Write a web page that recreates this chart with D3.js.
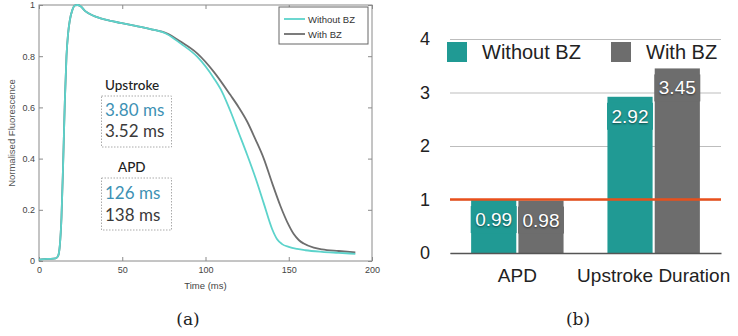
<!DOCTYPE html>
<html>
<head>
<meta charset="utf-8">
<script src="https://cdn.jsdelivr.net/npm/d3@7"></script>
<style>
  body { margin: 0; background: #fff; }
  svg { display: block; }
</style>
</head>
<body>
<div id="chart"></div>
<script>
// panel (a): fluorescence traces
var timeNoBz = [0, 5, 10, 11.5, 12.5, 13.5, 14.5, 15.5, 16.5, 17.5, 18.5, 20, 21.5, 23, 25, 28, 32, 37, 43, 49, 58, 67, 77, 85, 95, 105, 110, 115, 120, 125, 130, 135, 140, 143, 146, 150, 155, 160, 170, 180, 190];
var fluoNoBz = [0.005, 0.008, 0.01, 0.02, 0.06, 0.17, 0.38, 0.62, 0.8, 0.89, 0.94, 0.98, 0.998, 1.0, 0.995, 0.975, 0.96, 0.948, 0.938, 0.93, 0.918, 0.906, 0.886, 0.85, 0.798, 0.714, 0.66, 0.585, 0.5, 0.415, 0.325, 0.225, 0.125, 0.085, 0.066, 0.055, 0.047, 0.042, 0.036, 0.032, 0.028];
var timeBz = [0, 5, 10, 11.5, 12.5, 13.5, 14.5, 15.5, 16.5, 17.5, 18.5, 20, 21.5, 23, 25, 28, 32, 37, 43, 49, 58, 67, 77, 85, 95, 105, 115, 120, 125, 130, 135, 140, 145, 150, 153, 156, 159, 165, 170, 180, 190];
var fluoBz = [0.005, 0.008, 0.01, 0.02, 0.06, 0.17, 0.38, 0.62, 0.8, 0.89, 0.94, 0.98, 0.998, 1.0, 0.995, 0.975, 0.96, 0.948, 0.938, 0.93, 0.918, 0.906, 0.888, 0.857, 0.811, 0.739, 0.648, 0.6, 0.545, 0.475, 0.4, 0.305, 0.215, 0.14, 0.105, 0.082, 0.068, 0.052, 0.045, 0.039, 0.034];
var timeTicks = [0, 50, 100, 150, 200];
var fluoTicks = [0, 0.2, 0.4, 0.6, 0.8, 1];
var traceNames = ["Without BZ", "With BZ"];

// panel (b): normalised ratios
var barCategories = ["APD", "Upstroke Duration"];
var barSeries = ["Without BZ", "With BZ"];
var barNoBz = [0.99, 2.92];
var barBz = [0.98, 3.45];
var barTicks = [0, 1, 2, 3, 4];

var cyan = "#5cd3cb", grayLine = "#6e6e6e";
var teal = "#209a94", grayBar = "#6d6d6d";

var svg = d3.select('#chart').append('svg')
  .attr('width', 738)
  .attr('height', 336);

// ---------- (a) ----------
var xA = d3.scaleLinear().domain([0, 200]).range([39, 372]);
var yA = d3.scaleLinear().domain([0, 1]).range([261, 5]);
var matFont = "'Liberation Sans', Arial, sans-serif";

var gA = svg.append('g');

gA.append('rect')
  .attr('x', xA(0)).attr('y', yA(1))
  .attr('width', xA(200) - xA(0)).attr('height', yA(0) - yA(1))
  .attr('fill', 'none').attr('stroke', '#8a8a8a');

function styleMat(g) {
  g.select('.domain').remove();
  g.selectAll('line').attr('stroke', '#8a8a8a');
  g.selectAll('text').attr('fill', '#444').style('font-family', matFont).style('font-size', '9px');
}

gA.append('g').attr('transform', 'translate(0,' + yA(0) + ')')
  .call(d3.axisBottom(xA).tickValues(timeTicks).tickSize(-4).tickPadding(6).tickFormat(d3.format('d')))
  .call(styleMat);
gA.append('g').attr('transform', 'translate(0,' + yA(1) + ')')
  .call(d3.axisTop(xA).tickValues(timeTicks).tickSize(-4).tickFormat(''))
  .call(styleMat);
gA.append('g').attr('transform', 'translate(' + xA(0) + ',0)')
  .call(d3.axisLeft(yA).tickValues(fluoTicks).tickSize(-4).tickPadding(4).tickFormat(d => d === 0 || d === 1 ? d : d3.format('.1f')(d)))
  .call(styleMat);
gA.append('g').attr('transform', 'translate(' + xA(200) + ',0)')
  .call(d3.axisRight(yA).tickValues(fluoTicks).tickSize(-4).tickFormat(''))
  .call(styleMat);

gA.append('text')
  .attr('x', (xA(0) + xA(200)) / 2).attr('y', 289)
  .attr('text-anchor', 'middle')
  .style('font-family', matFont).style('font-size', '9.5px').attr('fill', '#444')
  .text('Time (ms)');

gA.append('text')
  .attr('transform', 'translate(15,' + yA(0.5) + ') rotate(-90)')
  .attr('text-anchor', 'middle')
  .style('font-family', matFont).style('font-size', '9.5px').attr('fill', '#555')
  .text('Normalised Fluorescence');

var line = d3.line()
  .x(d => xA(d[0]))
  .y(d => yA(d[1]))
  .curve(d3.curveMonotoneX);

var traceBz = timeBz.map((t, i) => [t, fluoBz[i]]);
var traceNoBz = timeNoBz.map((t, i) => [t, fluoNoBz[i]]);

gA.append('path').datum(traceBz)
  .attr('d', line).attr('fill', 'none').attr('stroke', grayLine).attr('stroke-width', 1.8);
gA.append('path').datum(traceNoBz)
  .attr('d', line).attr('fill', 'none').attr('stroke', cyan).attr('stroke-width', 1.8);

// legend (a)
gA.append('rect')
  .attr('x', 279).attr('y', 7).attr('width', 89).attr('height', 37)
  .attr('fill', '#fff').attr('stroke', '#666');
[cyan, grayLine].forEach(function(c, i) {
  var ly = 19 + i * 15;
  gA.append('line').attr('x1', 284).attr('x2', 305).attr('y1', ly).attr('y2', ly)
    .attr('stroke', c).attr('stroke-width', 1.8);
  gA.append('text').attr('x', 308).attr('y', ly + 3.5)
    .style('font-family', matFont).style('font-size', '9.5px').attr('fill', '#333')
    .text(traceNames[i]);
});

// annotations
var annFont = "Lato, 'Open Sans', sans-serif";
var notes = [
  { title: 'Upstroke', tx: 105, ty: 90, box: [101.5, 96, 70, 51], vals: ['3.80 ms', '3.52 ms'], vy: [116, 137] },
  { title: 'APD', tx: 118, ty: 172, box: [101.5, 178, 70, 52], vals: ['126 ms', '138 ms'], vy: [199, 221] }
];
notes.forEach(function(n) {
  gA.append('text').attr('x', n.tx).attr('y', n.ty)
    .style('font-family', annFont).style('font-size', '13.5px').style('font-weight', 500).attr('fill', '#222')
    .text(n.title);
  gA.append('rect').attr('x', n.box[0]).attr('y', n.box[1]).attr('width', n.box[2]).attr('height', n.box[3])
    .attr('fill', 'none').attr('stroke', '#aaa').attr('stroke-dasharray', '1.5,1.5');
  n.vals.forEach(function(v, i) {
    gA.append('text').attr('x', n.box[0] + 3.5).attr('y', n.vy[i])
      .style('font-family', annFont).style('font-size', '17px')
      .attr('fill', i === 0 ? '#3d91b4' : '#3a3a3a')
      .text(v);
  });
});

svg.append('text').attr('x', 188).attr('y', 325).attr('text-anchor', 'middle')
  .style('font-family', "'DejaVu Serif', serif").style('font-size', '17px').attr('fill', '#222')
  .text('(a)');

// ---------- (b) ----------
var barFont = "'Liberation Sans', Arial, sans-serif";
var yB = d3.scaleLinear().domain([0, 4]).range([253, 39]);
var x0 = d3.scaleBand().domain(barCategories).range([450, 721]).paddingInner(0.322).paddingOuter(0.155);
var x1 = d3.scaleBand().domain(barSeries).range([0, x0.bandwidth()]).paddingInner(0.045);

var gB = svg.append('g');

gB.append('g').attr('transform', 'translate(450,0)')
  .call(d3.axisLeft(yB).tickValues(barTicks).tickSize(-271).tickPadding(20).tickFormat(d3.format('d')))
  .call(g => g.select('.domain').remove())
  .call(g => g.selectAll('line').attr('stroke', '#bdbdbd').attr('stroke-width', 1.2))
  .call(g => g.selectAll('text').style('font-family', barFont).style('font-size', '18px').attr('fill', '#222'));

var rows = barCategories.map((c, i) => ({ cat: c, vals: [barNoBz[i], barBz[i]] }));
var colors = [teal, grayBar];

var groups = gB.selectAll('.grp').data(rows).enter().append('g')
  .attr('transform', d => 'translate(' + x0(d.cat) + ',0)');

groups.selectAll('rect').data(d => d.vals.map((v, i) => ({ s: barSeries[i], v: v, c: colors[i] })))
  .enter().append('rect')
  .attr('x', d => x1(d.s))
  .attr('y', d => yB(d.v))
  .attr('width', x1.bandwidth())
  .attr('height', d => yB(0) - yB(d.v))
  .attr('fill', d => d.c);

// value labels with their little background tabs
groups.selectAll('.lblbg').data(d => d.vals.map((v, i) => ({ s: barSeries[i], v: v, c: colors[i] })))
  .enter().append('rect')
  .attr('x', d => x1(d.s) + x1.bandwidth() / 2 - 23)
  .attr('y', d => yB(d.v) + 6)
  .attr('width', 46).attr('height', 27)
  .attr('fill', d => d.c);

groups.selectAll('.lbl').data(d => d.vals.map((v, i) => ({ s: barSeries[i], v: v })))
  .enter().append('text')
  .attr('x', d => x1(d.s) + x1.bandwidth() / 2)
  .attr('y', d => yB(d.v) + 26)
  .attr('text-anchor', 'middle')
  .style('font-family', barFont).style('font-size', '19px').attr('fill', '#fff')
  .style('text-shadow', '0 1px 2px rgba(0,0,0,0.55)')
  .text(d => d3.format('.2f')(d.v));

gB.append('g').attr('transform', 'translate(0,' + yB(0) + ')')
  .call(d3.axisBottom(x0).tickSize(0).tickPadding(16))
  .call(g => g.select('.domain').attr('stroke', '#555').attr('stroke-width', 1.6))
  .call(g => g.selectAll('text').style('font-family', barFont).style('font-size', '19px').attr('fill', '#222'));

gB.append('line')
  .attr('x1', 450).attr('x2', 721)
  .attr('y1', yB(1)).attr('y2', yB(1))
  .attr('stroke', '#e8501c').attr('stroke-width', 2.6);

// legend (b)
var legX = [447, 611];
barSeries.forEach(function(s, i) {
  gB.append('rect').attr('x', legX[i]).attr('y', 42).attr('width', 20).attr('height', 20).attr('fill', colors[i]);
  gB.append('text').attr('x', legX[i] + 35).attr('y', 59)
    .style('font-family', barFont).style('font-size', '20px').attr('fill', '#222')
    .text(s);
});

svg.append('text').attr('x', 578).attr('y', 325).attr('text-anchor', 'middle')
  .style('font-family', "'DejaVu Serif', serif").style('font-size', '17px').attr('fill', '#222')
  .text('(b)');
</script>
</body>
</html>
